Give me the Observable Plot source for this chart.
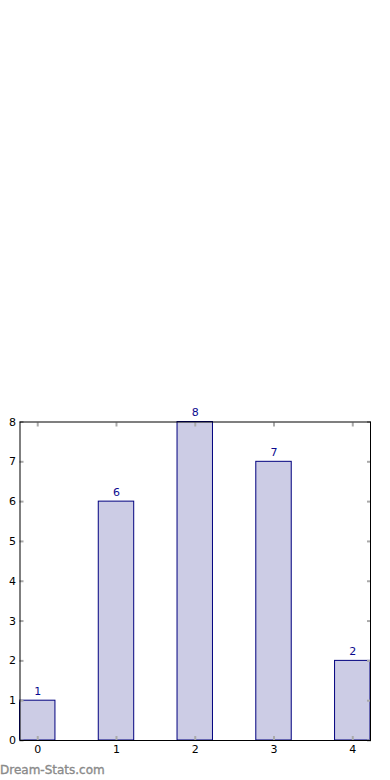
<!DOCTYPE html>
<html>
<head>
<meta charset="utf-8">
<script src="https://cdn.jsdelivr.net/npm/d3@7"></script>
<script src="https://cdn.jsdelivr.net/npm/@observablehq/plot@0.6"></script>
<style>
  html, body { margin: 0; padding: 0; background: #fff; }
  #wrap { position: relative; width: 390px; height: 780px; }
  #wm { position: absolute; left: 0; top: 763px; font-family: "DejaVu Sans", sans-serif; font-weight: normal; font-size: 12px; color: #8a8a8a; -webkit-text-stroke: 0.35px #8a8a8a; }
</style>
</head>
<body>
<div id="wrap"><div id="chart"></div><div id="wm">Dream-Stats.com</div></div>
<script>
const categories = [0, 1, 2, 3, 4];
const values = [1, 6, 8, 7, 2];
const yTicks = [0, 1, 2, 3, 4, 5, 6, 7, 8];
const barHalf = 0.225;

const data = categories.map((c, i) => ({c, v: values[i]}));

const chart = Plot.plot({
  width: 390,
  height: 780,
  marginTop: 421.5,
  marginBottom: 40,
  marginLeft: 19.5,
  marginRight: 20,
  style: {fontFamily: "DejaVu Sans, sans-serif", fontSize: "11px", color: "#000", background: "#fff"},
  x: {domain: [-barHalf, 4 + barHalf], ticks: categories, tickFormat: d => String(d)},
  y: {domain: [0, 8], ticks: yTicks},
  marks: [
    Plot.rectY(data, {x1: d => d.c - barHalf, x2: d => d.c + barHalf, y1: 0, y2: "v", fill: "#ccccE5", stroke: "#00007f", strokeWidth: 1}),
    Plot.axisX({ticks: categories, tickSize: -4, tickPadding: 9, stroke: "#aaa", strokeWidth: 2, label: null, tickFormat: d => String(d), fill: "#000"}),
    Plot.axisX({anchor: "top", ticks: categories, tickSize: -4, stroke: "#aaa", strokeWidth: 2, label: null, tickFormat: () => ""}),
    Plot.axisY({ticks: yTicks, tickSize: -4, tickPadding: 8, stroke: "#aaa", strokeWidth: 2, label: null, fill: "#000"}),
    Plot.axisY({anchor: "right", ticks: yTicks, tickSize: -4, stroke: "#aaa", strokeWidth: 2, label: null, tickFormat: () => ""}),
    Plot.frame({stroke: "#000", strokeWidth: 1}),
    Plot.text(data, {x: "c", y: "v", text: d => String(d.v), dy: -6, lineAnchor: "bottom", fill: "#0a0a8f", fontSize: 11})
  ]
});
document.getElementById("chart").appendChild(chart);
</script>
</body>
</html>
